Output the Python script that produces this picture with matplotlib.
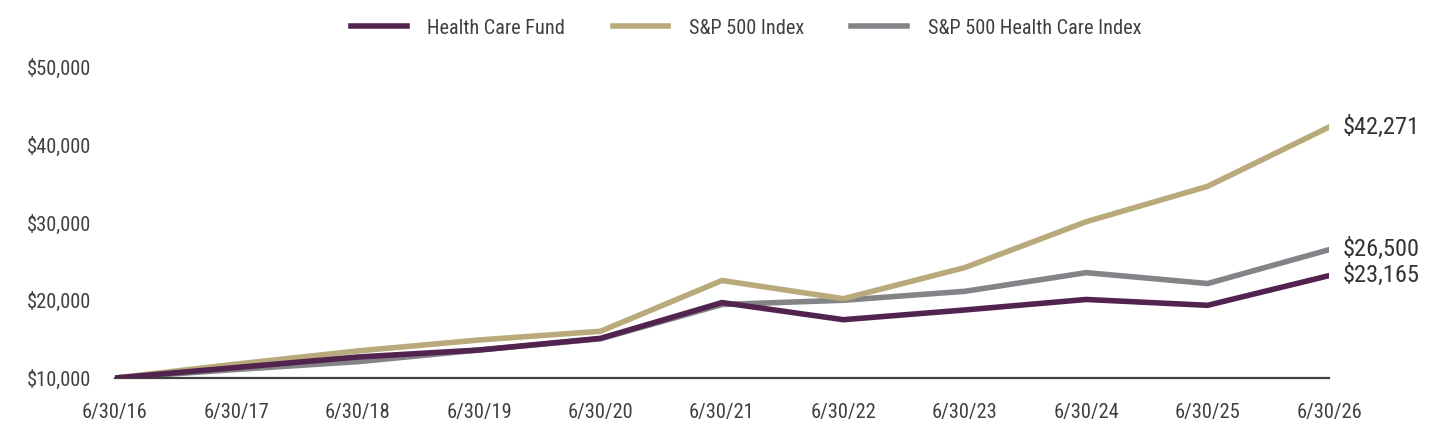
import matplotlib
matplotlib.use("Agg")
import matplotlib.pyplot as plt
from matplotlib import font_manager
from matplotlib.ticker import FuncFormatter

dates = ["6/30/16", "6/30/17", "6/30/18", "6/30/19", "6/30/20", "6/30/21",
         "6/30/22", "6/30/23", "6/30/24", "6/30/25", "6/30/26"]
fund = [10000, 11350, 12700, 13600, 15100, 19700, 17500, 18750, 20100, 19350, 23165]
sp500 = [10000, 11790, 13480, 14890, 16010, 22540, 20200, 24200, 30100, 34650, 42271]
hc_index = [10000, 11100, 12100, 13600, 15050, 19450, 20000, 21150, 23550, 22150, 26500]
yticks = [10000, 20000, 30000, 40000, 50000]

# pick a narrow / condensed sans font if one is installed
narrow_family, narrow_stretch = None, "normal"
prefs = ["Liberation Sans Narrow", "Arial Narrow", "Roboto Condensed",
         "Open Sans Condensed", "DejaVu Sans", "Noto Sans", "Roboto", "Open Sans"]
cands = {}
for f in font_manager.fontManager.ttflist:
    nm = f.name
    st = f.stretch
    is_narrow = ("narrow" in nm.lower() or "condensed" in nm.lower()
                 or st in ("condensed", "semi-condensed", "extra-condensed",
                           "ultra-condensed") or (isinstance(st, int) and st < 500))
    if is_narrow and f.weight in ("normal", 400, "regular", "book"):
        cands.setdefault(nm, st)
for p in prefs:
    if p in cands:
        narrow_family, narrow_stretch = p, cands[p]
        break
if narrow_family is None and cands:
    narrow_family = sorted(cands)[0]
    narrow_stretch = cands[narrow_family]

if narrow_family:
    plt.rcParams["font.family"] = [narrow_family, "DejaVu Sans"]
    plt.rcParams["font.stretch"] = narrow_stretch
    fs_tick, fs_leg, fs_end = 14.8, 14.6, 17.6
else:
    plt.rcParams["font.family"] = ["Liberation Sans", "DejaVu Sans"]
    fs_tick, fs_leg, fs_end = 13.2, 13.2, 15.5

c_fund = "#532350"
c_sp = "#B8AA7A"
c_hc = "#848388"
txt = "#404040"

W, H = 1440, 444
fig = plt.figure(figsize=(W / 100, H / 100), dpi=100)
ax = fig.add_axes([115 / W, (H - 378) / H, (1329 - 115) / W, (378 - 67) / H])

x = list(range(len(dates)))
l_hc, = ax.plot(x, hc_index, color=c_hc, lw=4, solid_joinstyle="miter", zorder=2,
                label="S&P 500 Health Care Index")
l_sp, = ax.plot(x, sp500, color=c_sp, lw=4, solid_joinstyle="miter", zorder=3,
                label="S&P 500 Index")
l_fund, = ax.plot(x, fund, color=c_fund, lw=4, solid_joinstyle="miter", zorder=4,
                  label="Health Care Fund")

ax.set_xlim(0, len(dates) - 1)
ax.set_ylim(10000, 50000)
ax.set_xticks(x)
ax.set_xticklabels(dates)
ax.set_yticks(yticks)
ax.yaxis.set_major_formatter(FuncFormatter(lambda v, p: f"${v:,.0f}"))
ax.tick_params(axis="both", length=0, labelsize=fs_tick, colors=txt)
ax.tick_params(axis="y", pad=17)
ax.tick_params(axis="x", pad=18)
for s in ["top", "right", "left"]:
    ax.spines[s].set_visible(False)
ax.spines["bottom"].set_color("#404040")
ax.spines["bottom"].set_linewidth(1.6)
ax.patch.set_alpha(0)

for series in (sp500, hc_index, fund):
    ax.annotate(f"${series[-1]:,.0f}", xy=(x[-1], series[-1]), xytext=(10, 0),
                textcoords="offset points", va="center", ha="left",
                fontsize=fs_end, color="#333333", annotation_clip=False)

fig.legend(handles=[l_fund, l_sp, l_hc], loc="center", ncol=3,
           bbox_to_anchor=(746 / W, 1 - 28 / H), frameon=False, fontsize=fs_leg,
           handlelength=2.75, handletextpad=1.0, columnspacing=2.35,
           labelcolor=txt)

fig.savefig("out.png", dpi=100, facecolor="white")
